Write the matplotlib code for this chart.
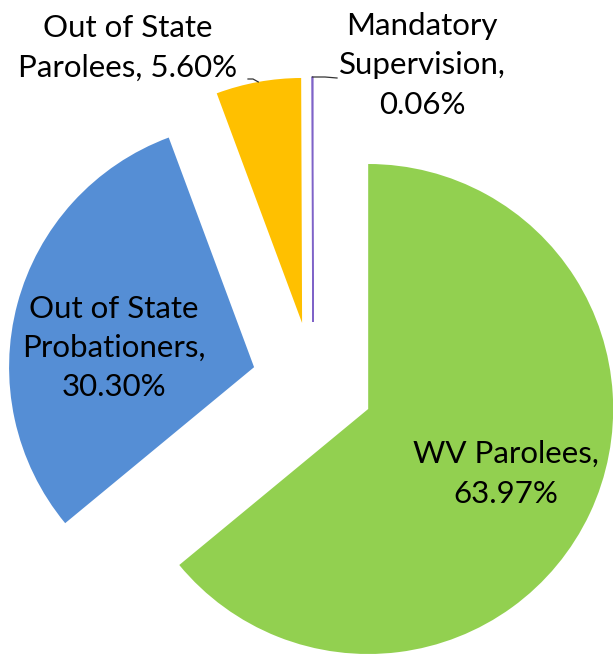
import numpy as np
import matplotlib.pyplot as plt

# supervision caseload breakdown
labels = ['WV Parolees', 'Out of State Probationers', 'Out of State Parolees', 'Mandatory Supervision']
shares = [63.97, 30.30, 5.60, 0.06]
label_text = ['WV Parolees,\n63.97%', 'Out of State\nProbationers,\n30.30%',
              'Out of State\nParolees, 5.60%', 'Mandatory\nSupervision,\n0.06%']
colors = ['#92D050', '#558ED5', '#FFC000', '#7F63C8']

W, H = 613, 654
R = 245.0          # pie radius in pixels
CX, CY = 313, 383  # pie centre in pixels (from top-left)
EXPLODE = 61 / R


def px(x, y):
    # pixel position -> data coords (radius = 1)
    return (x - CX) / R, (CY - y) / R


fig = plt.figure(figsize=(W / 100, H / 100), dpi=100)
ax = fig.add_axes([0, 0, 1, 1])

wedges, _ = ax.pie(shares, colors=colors, startangle=90, counterclock=False,
                   explode=[EXPLODE] * len(shares), radius=1,
                   wedgeprops=dict(linewidth=0))
wedges[3].set_edgecolor(colors[3])
wedges[3].set_linewidth(1.0)

x0, y0 = px(0, H)
x1, y1 = px(W, 0)
ax.set_xlim(x0, x1)
ax.set_ylim(y0, y1)
ax.set_aspect('equal')
ax.axis('off')

font = dict(family=['Lato', 'DejaVu Sans'], fontsize=22.5, color='black',
            ha='center', va='center', linespacing=1.5)

text_pos = [(506, 474), (114, 348), (128, 48), (422, 65)]
for t, (tx, ty) in zip(label_text, text_pos):
    ax.text(*px(tx, ty), t, **font)


def rim_point(w):
    # point on the outer arc at the wedge's middle angle, including explode shift
    mid = np.deg2rad((w.theta1 + w.theta2) / 2)
    cx, cy = w.center
    return cx + w.r * np.cos(mid), cy + w.r * np.sin(mid)


# leader lines for the two small slices
ax_, ay_ = rim_point(wedges[2])
pts = [(ax_, ay_), px(253, 79), px(248, 79)]
ax.plot([p[0] for p in pts], [p[1] for p in pts], color='#333333', lw=0.9)

ax_, ay_ = rim_point(wedges[3])
pts = [(ax_, ay_), px(325, 77), px(337, 78)]
ax.plot([p[0] for p in pts], [p[1] for p in pts], color='#333333', lw=0.9)

fig.savefig('out.png', dpi=100)
